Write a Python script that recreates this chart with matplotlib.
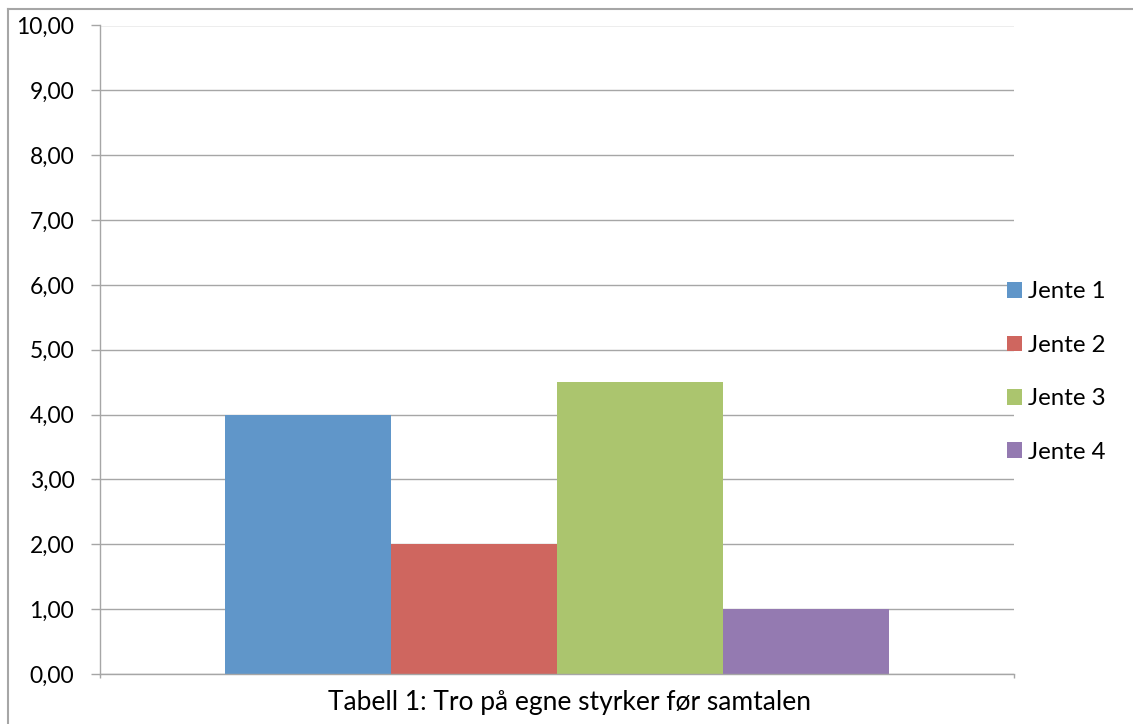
import matplotlib
matplotlib.use("Agg")
import matplotlib.pyplot as plt
from matplotlib.lines import Line2D
from matplotlib.patches import Patch

series = ["Jente 1", "Jente 2", "Jente 3", "Jente 4"]
values = [4.0, 2.0, 4.5, 1.0]
colors = ["#6096C9", "#CF665F", "#ABC56E", "#947AB1"]
yticks = [0, 1, 2, 3, 4, 5, 6, 7, 8, 9, 10]
ytick_labels = ["0,00", "1,00", "2,00", "3,00", "4,00", "5,00",
                "6,00", "7,00", "8,00", "9,00", "10,00"]
xlabel = "Tabell 1: Tro på egne styrker før samtalen"

plt.rcParams["font.family"] = ["Lato", "DejaVu Sans"]
W, H = 1133, 724
fig = plt.figure(figsize=(W / 100, H / 100), dpi=100)

grey = "#A6A6A6"

# chart frame
fig.add_artist(Line2D([8 / W, 8 / W], [-0.1, 1 - 9 / H], transform=fig.transFigure,
                      color=grey, lw=1.5))
fig.add_artist(Line2D([8 / W, 1.1], [1 - 9 / H, 1 - 9 / H], transform=fig.transFigure,
                      color=grey, lw=1.5))

left, right, top, bottom = 100, 1014, 25.5, 674
ax = fig.add_axes([left / W, 1 - bottom / H, (right - left) / W, (bottom - top) / H])

# clustered bars: four series in a single category, gap width 150%
n = len(series)
bw = 1 / (n + 1.5)
start = 0.75 * bw
for i, (s, v, c) in enumerate(zip(series, values, colors)):
    ax.bar(start + i * bw, v, width=bw, align="edge", color=c, label=s, zorder=2)

ax.set_xlim(0, 1)
ax.set_ylim(0, 10)
ax.set_yticks(yticks)
ax.set_yticklabels(ytick_labels, fontsize=16.5, color="#000000")
ax.set_xticks([0, 1])
ax.set_xticklabels(["", ""])
ax.tick_params(axis="y", direction="out", length=6.5, width=1.0, color=grey, pad=12)
ax.tick_params(axis="x", direction="out", length=3, width=1.0, color=grey)
ax.grid(axis="y", color=grey, lw=1.0, zorder=0)
ax.set_axisbelow(True)
for sp in ["top", "right"]:
    ax.spines[sp].set_visible(False)
for sp in ["left", "bottom"]:
    ax.spines[sp].set_color(grey)
    ax.spines[sp].set_linewidth(1.0)
ax.spines["bottom"].set_zorder(3)

ax.set_xlabel(xlabel, fontsize=19, labelpad=5)
ax.xaxis.label.set_x((570 - left) / (right - left))

handles = [Patch(facecolor=c, edgecolor="none") for c in colors]
fig.legend(handles, series, loc="center left",
           bbox_to_anchor=(1007 / W, 1 - 372 / H), frameon=False,
           fontsize=17.3, handlelength=0.62, handleheight=0.62,
           handletextpad=0.25, labelspacing=1.35, borderaxespad=0,
           borderpad=0)

fig.savefig("out.png", dpi=100)
